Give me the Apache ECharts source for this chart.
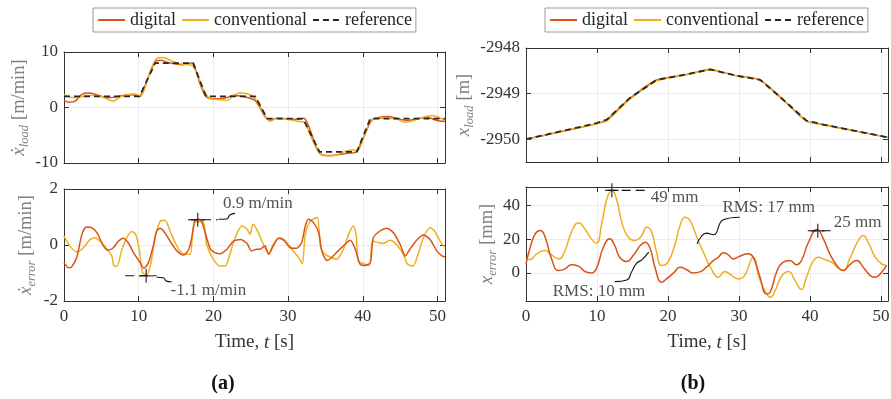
<!DOCTYPE html>
<html><head><meta charset="utf-8">
<script src="https://cdn.jsdelivr.net/npm/echarts@6/dist/echarts.min.js"></script>
<style>html,body{margin:0;padding:0;background:#fff}#c{width:891px;height:399px}</style>
</head><body><div id="c"></div>
<script>
// ---------------- DATA ----------------
const timeTicks = [0, 10, 20, 30, 40, 50];

// (a) top: load velocity [m/min]
const velRefT = [0, 10.1, 12.2, 17.3, 19.0, 25.6, 27.2, 32.0, 34.2, 39.2, 41.0, 51];
const velRefV = [2, 2, 8, 8, 2, 2, -2, -2, -8, -8, -2, -2];
const velDigT = [0,0.6,1.5,2.4,3.3,4.4,5.7,6.8,7.9,9.1,10.0,10.4,11.3,12.2,12.9,14.2,15.8,17.1,17.5,18.2,19.1,20.4,21.6,22.7,24.0,25.1,25.6,26.2,26.9,27.6,28.5,29.8,31.2,32.1,32.8,33.7,34.3,35.2,36.5,37.9,39.0,39.9,40.8,41.4,42.3,43.4,44.5,45.9,47.2,48.6,49.9,51];
const velDigV = [1.27,0.96,1.14,2.35,2.6,2.3,1.75,1.87,2.17,2.3,2.0,2.5,5.5,8.2,8.5,8.0,7.7,8.0,7.3,4.3,1.87,1.57,1.7,2.17,2.0,1.57,1.27,0.06,-1.63,-2.35,-1.93,-2.05,-2.17,-1.93,-3.55,-6.87,-8.37,-8.67,-8.55,-8.25,-8.07,-5.96,-3.25,-2.05,-1.75,-1.63,-1.93,-2.35,-2.05,-1.75,-2.35,-2.53];
const velConT = [0,0.8,1.9,3.0,4.4,5.7,6.6,7.5,8.6,9.5,10.2,10.8,11.5,12.4,13.3,14.4,15.8,17.1,17.8,18.7,19.6,20.9,21.8,22.7,23.6,24.5,25.5,26.2,26.9,27.6,28.5,29.8,31.2,32.1,32.8,33.7,34.3,35.4,36.5,37.6,38.6,39.3,40.2,41.1,41.9,43.2,44.5,45.6,46.8,48.1,49.3,50.4,51];
const velConV = [2.3,1.87,1.75,2.17,2.17,1.57,1.14,1.87,2.35,2.47,2.0,3.4,6.4,8.8,9.0,8.4,7.8,7.6,6.1,3.07,1.57,1.39,1.27,2.17,2.6,2.47,1.8,0.36,-1.45,-2.47,-1.93,-2.11,-2.47,-2.65,-4.46,-7.17,-8.37,-8.73,-8.55,-7.9,-7.6,-7.8,-5.06,-2.35,-1.93,-1.93,-2.05,-2.65,-2.35,-1.75,-1.45,-1.93,-2.35];

// (a) bottom: velocity error [m/min]
const velErrDigT = [0,0.6,1,1.7,2.4,3,3.7,4.4,5.3,5.9,6.6,7.3,7.9,8.6,9.3,10.2,10.7,11.3,12,12.4,12.9,13.5,14.2,15.1,16,16.7,17.1,17.5,18,18.4,19.1,19.6,20.2,20.9,21.8,22.7,23.6,24.5,25.1,25.8,26.2,26.9,27.4,28,28.7,29.4,30.3,31.1,31.8,32.3,32.7,33.4,34.1,34.5,35.2,35.9,36.7,37.6,38.3,39,39.6,40.3,41,41.4,42.3,43.2,44.1,45,45.7,46.3,47.2,48.1,49,49.9,50.6,51];
const velErrDigV = [-0.63,-0.81,-0.79,-0.45,0.38,0.64,0.62,0.44,-0.04,-0.19,-0.1,0.14,0.24,0.08,-0.27,-0.63,-0.83,-0.63,0.02,0.5,0.6,0.44,0.14,-0.21,-0.36,-0.15,0.26,0.86,0.92,0.86,0.26,-0.15,-0.27,-0.31,-0.15,0.14,0.2,0.05,-0.21,-0.15,-0.15,-0.04,-0.33,-0.04,0.24,0.17,-0.1,-0.12,0.08,0.68,0.92,0.8,0.44,-0.21,-0.55,-0.43,-0.21,0.02,0.17,-0.15,-0.67,-0.73,-0.63,0.26,0.5,0.6,0.44,0.02,-0.39,-0.15,0.17,0.36,0.2,-0.21,-0.39,-0.43];
const velErrConT = [0,0.8,1.7,2.6,3.5,4.2,4.8,5.7,6.4,6.7,7.1,7.7,8.4,9.1,9.6,10.1,10.5,11.1,11.6,12.2,12.9,13.5,14.2,14.9,15.5,16.2,16.9,17.2,17.5,18.2,18.7,19.1,20,20.9,21.6,22.2,22.9,23.8,24.5,24.9,25.3,25.8,26.5,26.9,27.4,28,28.9,29.6,30.5,31.4,31.9,32.3,33,33.9,34.3,34.7,35.6,36.5,37.4,38.1,38.7,39.1,39.4,40.1,40.9,41.3,42.1,42.7,43.6,44.5,45.4,46,46.7,47.4,48.1,49,49.6,50.6,51];
const velErrConV = [0.32,-0.04,-0.25,-0.1,0.2,0.26,0.14,-0.12,-0.39,-0.75,-0.75,-0.21,0.26,0.48,0.38,-0.21,-0.99,-1.05,-0.69,0.26,0.86,0.88,0.5,0.08,-0.21,-0.33,-0.33,0.38,0.8,0.83,0.8,0.02,-0.51,-0.75,-0.75,-0.33,0.26,0.68,0.56,0.38,0.74,0.56,0.14,-0.1,-0.33,0.02,0.26,0.17,-0.15,-0.45,-0.67,0.38,0.86,0.98,0.02,-0.27,-0.43,-0.51,-0.15,0.38,0.68,0.38,-0.57,-0.67,-0.73,0.14,0.08,0.05,0.17,0.02,-0.33,-0.69,-0.75,-0.33,0.26,0.62,0.5,0.02,-0.07];

// (b) top: load position [m]
const posT    = [0, 9.9, 11.4, 14.6, 18.4, 22.2, 25.9, 29.7, 33.0, 36.2, 39.5, 41.9, 51];
const posRefV = [-2950, -2949.65, -2949.57, -2949.10, -2948.70, -2948.59, -2948.47, -2948.61, -2948.70, -2949.13, -2949.59, -2949.68, -2949.96];
const posDigV = [-2950, -2949.66, -2949.57, -2949.11, -2948.70, -2948.60, -2948.47, -2948.61, -2948.70, -2949.13, -2949.60, -2949.68, -2949.96];
const posConV = [-2950, -2949.66, -2949.60, -2949.13, -2948.72, -2948.60, -2948.48, -2948.61, -2948.71, -2949.14, -2949.60, -2949.69, -2949.96];

// (b) bottom: position error [mm]
const posErrDigT = [0,0.6,1.3,2,2.7,3.6,4.6,5.5,6.4,7.4,8.3,9.2,9.9,10.9,11.8,12.5,13.2,14.2,15.1,16.1,16.8,17.5,18.2,19.1,19.8,20.8,21.7,22.6,23.5,24.5,25.4,26.4,27.1,27.8,28.5,29.2,30.1,31.3,32,32.9,33.9,34.4,35.3,36.2,37.2,38.1,38.8,39.8,41,41.9,42.8,43.8,44.7,45.6,46.6,47.5,48.5,49.2,50.1,50.8];
const posErrDigV = [5.3,15.2,23.2,25.1,21.2,8.3,1.4,2.4,4.8,4,0.8,0,2.4,15.2,20.2,16.2,9.3,6.7,10.3,16.2,18.2,14.3,2.8,-5.5,-3.6,0,3.4,2,0,0.6,3.4,7.3,9.3,11.9,10.7,8.3,9.9,11.3,9.3,-1.6,-12.5,-11.5,0.4,6.3,7.3,4.8,7.3,18.2,25.7,20.2,11.3,4.4,1.4,4.8,7.3,3.4,-1.6,-2.6,0.4,4.4];
const posErrConT = [0,0.6,1.5,2.7,3.6,4.6,5.5,6.4,7.4,8.3,9.2,9.9,10.7,11.4,12.1,12.8,13.5,14.4,15.4,16.3,17,17.7,18.4,19.1,20,21,21.7,22.4,23.1,23.8,24.5,25.2,26.1,27.1,28,29,29.9,30.8,32,32.9,33.9,34.4,35.1,36,37,37.9,38.8,39.5,40.5,41.2,42.1,43.1,44,44.7,45.6,46.8,47.5,48.2,49.2,50.1,50.8];
const posErrConV = [8.3,7.9,11.3,13.3,10.7,8.3,13.3,24.2,29.7,26.1,20.2,17.6,30,44,48.9,43,30,21.2,19.2,22.2,27.1,24.2,12.3,4.4,6.3,17.2,28.1,33,31,24.2,16.7,10.3,2.4,-2.6,0.8,-1.6,-3.6,-1.6,9.3,-3.6,-12.5,-14.5,-10.5,-2,0.8,-4.6,-9.9,-2.6,7.3,9.3,7.9,6.3,2.8,1.4,8.3,19.2,22.2,18.2,9.3,5.3,4.4];

// annotations (data coordinates)
const velMarkT = [17.9, 11.0], velMarkV = [0.9, -1.1];
const velLeadHiT = [16.6, 20.6], velLeadHiV = [0.9, 0.9];
const velCurlHiT = [20.7, 21.8, 22.2, 22.9], velCurlHiV = [0.92, 0.93, 1.07, 1.13];
const velLeadLoT = [8.2, 12.4], velLeadLoV = [-1.1, -1.1];
const velCurlLoT = [12.4, 13.3, 13.7, 14.4], velCurlLoV = [-1.15, -1.17, -1.29, -1.31];
const velTextLabels = ['0.9 m/min', '-1.1 m/min'];
const velTextT = [21.2, 14.2], velTextV = [1.49, -1.61];

const posMarkT = [12.1, 41.1], posMarkV = [49, 25];
const posLeadHiT = [11.5, 17.2], posLeadHiV = [49, 49];
const posLeadLoT = [39.7, 43.2], posLeadLoV = [25, 25];
const curl17T = [30.1, 27.8, 26.4, 25.4, 24.7, 24.1], curl17V = [33.0, 31.5, 22.6, 23.6, 21.6, 17.2];
const curl10T = [12.5, 14.2, 14.9, 15.6, 16.3, 17.3], curl10V = [-5.2, -4.2, 0.8, 5.8, 7.7, 12.3];
const posTextLabels = ['49 mm', '25 mm', 'RMS: 17 mm', 'RMS: 10 mm'];
const posTextT = [17.5, 43.3, 27.6, 3.7], posTextV = [44.7, 30, 38.6, -11.3];

// ---------------- STYLE / BUILD ----------------
const FONT = '"Liberation Serif", "DejaVu Serif", serif';
const C_DIG = '#D95319', C_CON = '#EDB120', C_REF = '#262626';
const AX = '#333333', TXT = '#333333', GRAYLBL = '#808080';

const pairs = (ts, vs) => ts.map((t, i) => [t, vs[i]]);

const grids = [
  {left: 64, top: 52, width: 381, height: 111},
  {left: 64, top: 189, width: 381, height: 112},
  {left: 526, top: 48, width: 362, height: 114},
  {left: 526, top: 187, width: 362, height: 114}
].map(g => Object.assign({show: false, outerBoundsMode: 'none'}, g));

const yCfg = [
  {min: -10, max: 10, ticks: [-10, 0, 10], name: ['ẋ', 'load', '[m/min]'], gap: 30},
  {min: -2, max: 2, ticks: [-2, 0, 2], name: ['ẋ', 'error', '[m/min]'], gap: 26},
  {min: -2950.5, max: -2948, ticks: [-2950, -2949, -2948], name: ['x', 'load', '[m]'], gap: 49},
  {min: -16.7, max: 51, ticks: [0, 20, 40], name: ['x', 'error', '[mm]'], gap: 27}
];

const richName = {
  m: {fontFamily: FONT, fontStyle: 'italic', fontSize: 19, color: GRAYLBL, lineHeight: 24, verticalAlign: 'middle'},
  s: {fontFamily: FONT, fontStyle: 'italic', fontSize: 12.5, color: GRAYLBL, lineHeight: 14, verticalAlign: 'bottom'},
  u: {fontFamily: FONT, fontSize: 18.5, color: GRAYLBL, lineHeight: 24, verticalAlign: 'middle', padding: [0, 0, 0, 5]}
};

const xAxes = [], yAxes = [];
for (let i = 0; i < 4; i++) {
  const bottomRow = (i === 1 || i === 3);
  xAxes.push({
    type: 'value', gridIndex: i, min: 0, max: 51, position: 'bottom',
    axisLine: {show: true, onZero: false, lineStyle: {color: AX, width: 1}},
    axisTick: {show: true, inside: true, length: 5, customValues: timeTicks, lineStyle: {color: AX}},
    axisLabel: {show: bottomRow, customValues: timeTicks, margin: 7, color: TXT, fontFamily: FONT, fontSize: 17},
    splitLine: {show: true, lineStyle: {color: '#ebebeb', width: 1}},
    name: bottomRow ? '{a|Time, }{i|t}{a| [s]}' : '',
    nameLocation: 'middle', nameGap: 32,
    nameTextStyle: {rich: {
      a: {fontFamily: FONT, fontSize: 19, color: TXT},
      i: {fontFamily: FONT, fontSize: 19, fontStyle: 'italic', color: TXT}
    }}
  });
  const y = yCfg[i];
  yAxes.push({
    type: 'value', gridIndex: i, min: y.min, max: y.max, position: 'left',
    axisLine: {show: true, onZero: false, lineStyle: {color: AX, width: 1}},
    axisTick: {show: true, inside: true, length: 5, customValues: y.ticks, lineStyle: {color: AX}},
    axisLabel: {show: true, customValues: y.ticks, margin: 6, color: TXT, fontFamily: FONT, fontSize: 17,
      formatter: v => String(v)},
    splitLine: {show: true, lineStyle: {color: '#ebebeb', width: 1}},
    name: '{m|' + y.name[0] + '}{s|' + y.name[1] + '}{u|' + y.name[2] + '}',
    nameLocation: 'middle', nameRotate: 90, nameGap: y.gap,
    nameTextStyle: {rich: richName}
  });
}
// box: top and right axes with inward ticks
for (let i = 0; i < 4; i++) {
  const y = yCfg[i];
  xAxes.push({
    type: 'value', gridIndex: i, min: 0, max: 51, position: 'top',
    axisLine: {show: true, onZero: false, lineStyle: {color: AX, width: 1}},
    axisTick: {show: true, inside: true, length: 5, customValues: timeTicks, lineStyle: {color: AX}},
    axisLabel: {show: false}, splitLine: {show: false}
  });
  yAxes.push({
    type: 'value', gridIndex: i, min: y.min, max: y.max, position: 'right',
    axisLine: {show: true, onZero: false, lineStyle: {color: AX, width: 1}},
    axisTick: {show: true, inside: true, length: 5, customValues: y.ticks, lineStyle: {color: AX}},
    axisLabel: {show: false}, splitLine: {show: false}
  });
}

function line(name, gi, data, color, extra) {
  return Object.assign({
    type: 'line', name: name, xAxisIndex: gi, yAxisIndex: gi, data: data,
    symbol: 'none', showSymbol: false, smooth: 0.3, silent: true,
    lineStyle: {color: color, width: 1.5}, itemStyle: {color: color}, z: 3
  }, extra || {});
}
function refLine(gi, data) {
  return line('reference', gi, data, C_REF, {smooth: false, z: 4,
    lineStyle: {color: C_REF, width: 1.8, type: [6, 4]}});
}
function annLine(gi, data, dashed, smooth) {
  return {type: 'line', xAxisIndex: gi, yAxisIndex: gi, data: data, symbol: 'none', silent: true,
    smooth: smooth ? 0.5 : false, z: 6,
    lineStyle: {color: '#111', width: 1.1, type: dashed ? [9, 5] : 'solid'}, itemStyle: {color: '#111'}};
}
function plusMarks(gi, data) {
  return {type: 'scatter', xAxisIndex: gi, yAxisIndex: gi, data: data, silent: true, z: 7,
    symbol: 'path://M0,7H14M7,0V14', symbolSize: 14,
    itemStyle: {color: 'none', borderColor: '#111', borderWidth: 1.3}};
}
function texts(gi, ts, vs, labels) {
  return {type: 'scatter', xAxisIndex: gi, yAxisIndex: gi, silent: true, z: 8,
    symbolSize: 1, itemStyle: {color: 'rgba(0,0,0,0)'},
    data: ts.map((t, i) => ({value: [t, vs[i]], label: {formatter: labels[i]}})),
    label: {show: true, position: 'right', distance: 0, color: '#262626', fontFamily: FONT, fontSize: 17}};
}

const series = [
  line('digital', 0, pairs(velDigT, velDigV), C_DIG),
  line('conventional', 0, pairs(velConT, velConV), C_CON),
  refLine(0, pairs(velRefT, velRefV)),

  line('conventional', 1, pairs(velErrConT, velErrConV), C_CON, {smooth: 0.25}),
  line('digital', 1, pairs(velErrDigT, velErrDigV), C_DIG, {smooth: 0.25}),
  annLine(1, pairs(velLeadHiT, velLeadHiV), true),
  annLine(1, pairs(velCurlHiT, velCurlHiV), false, true),
  annLine(1, pairs(velLeadLoT, velLeadLoV), true),
  annLine(1, pairs(velCurlLoT, velCurlLoV), false, true),
  plusMarks(1, pairs(velMarkT, velMarkV)),
  texts(1, velTextT, velTextV, velTextLabels),

  line('digital', 2, pairs(posT, posDigV), C_DIG, {smooth: 0.2}),
  line('conventional', 2, pairs(posT, posConV), C_CON, {smooth: 0.2}),
  refLine(2, pairs(posT, posRefV)),

  line('conventional', 3, pairs(posErrConT, posErrConV), C_CON, {smooth: 0.5}),
  line('digital', 3, pairs(posErrDigT, posErrDigV), C_DIG, {smooth: 0.5}),
  annLine(3, pairs(posLeadHiT, posLeadHiV), true),
  annLine(3, pairs(posLeadLoT, posLeadLoV), true),
  annLine(3, pairs(curl17T, curl17V), false, true),
  annLine(3, pairs(curl10T, curl10V), false, true),
  plusMarks(3, pairs(posMarkT, posMarkV)),
  texts(3, posTextT, posTextV, posTextLabels)
];

const legendBase = {
  data: ['digital', 'conventional', 'reference'], top: 8, orient: 'horizontal',
  itemWidth: 27, itemHeight: 14, itemGap: 5, padding: [3, 4],
  borderColor: '#9a9a9a', borderWidth: 1, backgroundColor: '#ffffff', borderRadius: 0,
  selectedMode: false,
  itemStyle: {opacity: 0},
  textStyle: {color: '#262626', fontFamily: FONT, fontSize: 18, padding: [0, 0, 0, 0]}
};

const option = {
  animation: false,
  backgroundColor: '#ffffff',
  textStyle: {fontFamily: FONT},
  grid: grids,
  xAxis: xAxes,
  yAxis: yAxes,
  legend: [Object.assign({left: 93}, legendBase), Object.assign({left: 545}, legendBase)],
  series: series,
  graphic: [
    {type: 'text', x: 223, y: 384, style: {text: '(a)', align: 'center', verticalAlign: 'middle',
      font: 'bold 20px "Liberation Serif"', fill: '#111'}},
    {type: 'text', x: 693, y: 384, style: {text: '(b)', align: 'center', verticalAlign: 'middle',
      font: 'bold 20px "Liberation Serif"', fill: '#111'}}
  ]
};

const chart = echarts.init(document.getElementById('c'), null, {renderer: 'canvas'});
chart.setOption(option);
</script></body></html>
